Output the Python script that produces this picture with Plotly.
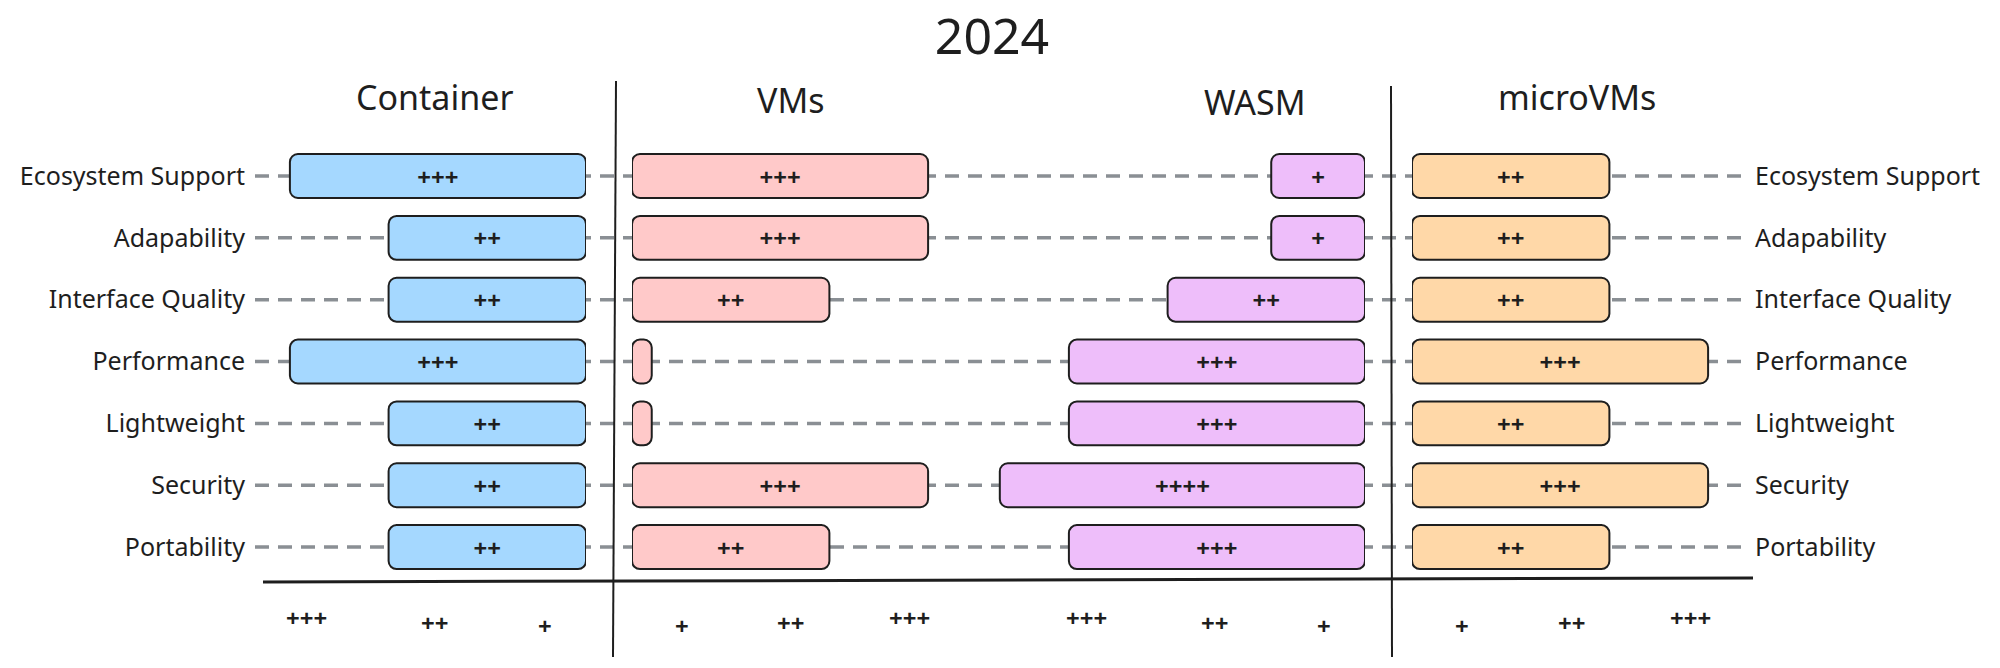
import plotly.graph_objects as go

W, H = 2000, 668

# ---------------- data ----------------
title_text = "2024"
criteria = ["Ecosystem Support", "Adapability", "Interface Quality", "Performance",
            "Lightweight", "Security", "Portability"]

groups = ["Container", "VMs", "WASM", "microVMs"]

container_vals = [3.0, 2.0, 2.0, 3.0, 2.0, 2.0, 2.0]
container_lbls = ["+++", "++", "++", "+++", "++", "++", "++"]

vms_vals = [3.0, 3.0, 2.0, 0.2, 0.2, 3.0, 2.0]
vms_lbls = ["+++", "+++", "++", "", "", "+++", "++"]

wasm_vals = [0.95, 0.95, 2.0, 3.0, 3.0, 3.7, 3.0]
wasm_lbls = ["+", "+", "++", "+++", "+++", "++++", "+++"]

micro_vals = [2.0, 2.0, 2.0, 3.0, 2.0, 3.0, 2.0]
micro_lbls = ["++", "++", "++", "+++", "++", "+++", "++"]

# scale tick labels (drawn under each block)
container_tick_lbls = ["+++", "++", "+"]
container_tick_vals = [2.83, 1.54, 0.42]
vms_tick_lbls = ["+", "++", "+++"]
vms_tick_vals = [0.51, 1.61, 2.81]
wasm_tick_lbls = ["+++", "++", "+"]
wasm_tick_vals = [2.82, 1.52, 0.42]
micro_tick_lbls = ["+", "++", "+++"]
micro_tick_vals = [0.51, 1.62, 2.82]

# ---------------- styling ----------------
FONT = "Noto Sans"
INK = "#1e1e1e"
colors = ["#a5d8ff", "#ffc9c9", "#eebefa", "#ffd8a8"]
U = 98.7          # px per unit
BAR_W = 0.71      # bar thickness (category units)

def px(x):
    return x / W

def py(y):
    return 1 - y / H

blocks = [
    dict(name="Container", vals=container_vals, lbls=container_lbls, dom=(250, 586), rev=True,
         tv=container_tick_vals, tl=container_tick_lbls, xa="x", ya="y", hx=434, hy=97),
    dict(name="VMs", vals=vms_vals, lbls=vms_lbls, dom=(632, 960), rev=False,
         tv=vms_tick_vals, tl=vms_tick_lbls, xa="x2", ya="y", hx=791, hy=100),
    dict(name="WASM", vals=wasm_vals, lbls=wasm_lbls, dom=(960, 1365), rev=True,
         tv=wasm_tick_vals, tl=wasm_tick_lbls, xa="x3", ya="y", hx=1255, hy=102),
    dict(name="microVMs", vals=micro_vals, lbls=micro_lbls, dom=(1412, 1750), rev=False,
         tv=micro_tick_vals, tl=micro_tick_lbls, xa="x4", ya="y2", hx=1577, hy=97),
]

ypos = list(range(len(criteria)))
fig = go.Figure()

layout_axes = {}
annotations = []
tick_y = {"+++": 617, "++": 622, "+": 625}
plus_font = dict(family=FONT, size=24, color=INK, weight="bold")

for i, b in enumerate(blocks):
    vals = b["vals"]
    # explicit base -> plotly rounds all four corners
    fig.add_trace(go.Bar(
        x=vals, base=[0] * len(vals), y=ypos, orientation="h", xaxis=b["xa"], yaxis=b["ya"],
        width=BAR_W, text=b["lbls"], textposition="inside", insidetextanchor="middle",
        textangle=0, textfont=plus_font,
        marker=dict(color=colors[i], line=dict(color=INK, width=2), cornerradius=8),
        hoverinfo="skip", showlegend=False, name=b["name"],
    ))
    span = (b["dom"][1] - b["dom"][0]) / U
    rng = [span, 0] if b["rev"] else [0, span]
    key = "xaxis" if b["xa"] == "x" else "xaxis" + b["xa"][1:]
    layout_axes[key] = dict(domain=[px(b["dom"][0]), px(b["dom"][1])], range=rng,
                            visible=False, anchor="y", fixedrange=True)
    annotations.append(dict(text=b["name"], x=px(b["hx"]), y=py(b["hy"]), xref="paper", yref="paper",
                            showarrow=False, font=dict(family=FONT, size=34, color=INK),
                            xanchor="center", yanchor="middle"))
    for v, t in zip(b["tv"], b["tl"]):
        annotations.append(dict(text=t, x=v, xref=b["xa"], y=py(tick_y[t]), yref="paper",
                                showarrow=False, font=plus_font,
                                xanchor="center", yanchor="middle"))

ydom = [py(578), py(145.1)]
shapes = []
for k, _ in enumerate(criteria):
    shapes.append(dict(type="line", xref="paper", yref="y", x0=px(255), x1=px(1750), y0=k, y1=k,
                       line=dict(color="#8a8f94", width=3.5, dash="14px,9px"), layer="below"))
shapes.append(dict(type="line", xref="paper", yref="paper", x0=px(616), y0=py(81), x1=px(613), y1=py(657),
                   line=dict(color=INK, width=2)))
shapes.append(dict(type="line", xref="paper", yref="paper", x0=px(1391), y0=py(86), x1=px(1392), y1=py(657),
                   line=dict(color=INK, width=2)))
shapes.append(dict(type="line", xref="paper", yref="paper", x0=px(263), y0=py(582), x1=px(1753), y1=py(578),
                   line=dict(color=INK, width=3)))

fig.update_layout(
    width=W, height=H,
    margin=dict(l=0, r=0, t=0, b=0),
    paper_bgcolor="white", plot_bgcolor="rgba(0,0,0,0)",
    title=dict(text=title_text, x=px(992), y=py(36), xanchor="center", yanchor="middle",
               font=dict(family=FONT, size=50, color=INK)),
    yaxis=dict(domain=ydom, range=[len(criteria) - 0.5, -0.5], tickvals=ypos, ticktext=criteria,
               showgrid=False, zeroline=False, showline=False, ticks="", anchor="x", side="left",
               tickfont=dict(family=FONT, size=25, color=INK), ticklabelstandoff=4, fixedrange=True),
    yaxis2=dict(domain=ydom, range=[len(criteria) - 0.5, -0.5], tickvals=ypos, ticktext=criteria,
                showgrid=False, zeroline=False, showline=False, ticks="", anchor="x4", side="right",
                overlaying="y", tickfont=dict(family=FONT, size=25, color=INK), ticklabelstandoff=4,
                fixedrange=True),
    shapes=shapes, annotations=annotations,
    **layout_axes,
)

fig.write_html("out.html", config={"displayModeBar": False})

# remove the browser's default page margin so the figure sits at (0, 0)
with open("out.html", "r", encoding="utf-8") as f:
    html = f.read()
html = html.replace("<body>", '<body style="margin:0;padding:0;overflow:hidden">', 1)
with open("out.html", "w", encoding="utf-8") as f:
    f.write(html)
